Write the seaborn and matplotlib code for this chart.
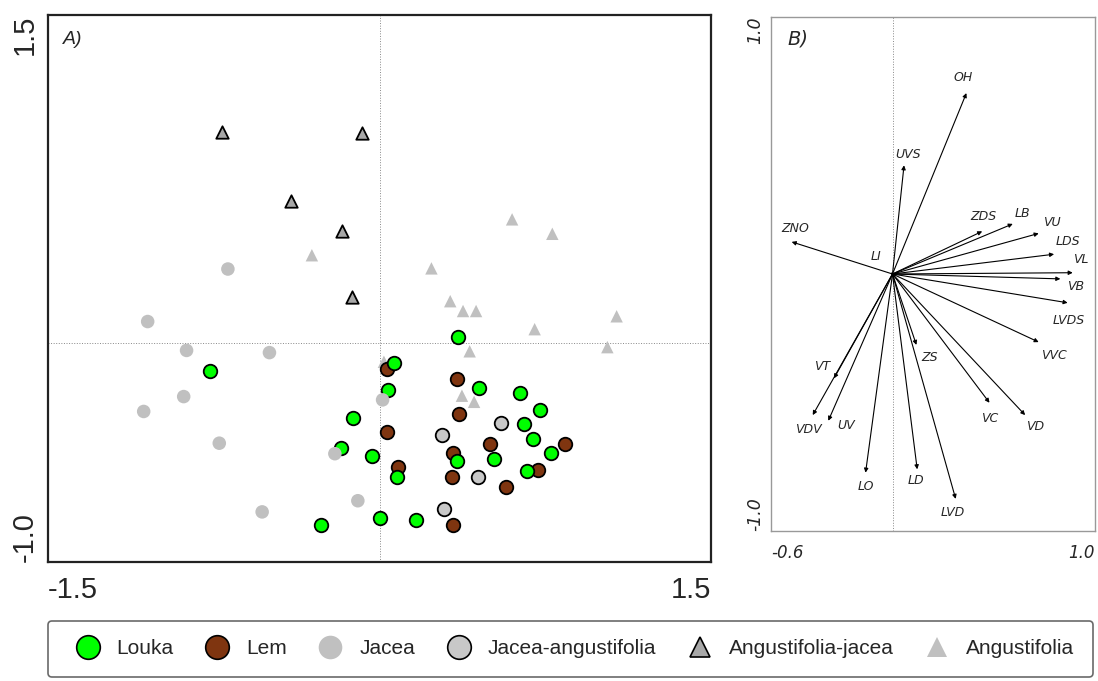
import numpy as np
import pandas as pd
import matplotlib
matplotlib.use("Agg")
import matplotlib.pyplot as plt
from matplotlib.lines import Line2D
import seaborn as sns

# --- panel A: sample scores ---
louka_x = [0.353, -0.769, 0.065, 0.039, 0.451, 0.635, 0.725, -0.122, 0.655, 0.696,
           -0.175, -0.035, 0.349, 0.520, 0.775, 0.078, 0.667, -0.265, 0.002, 0.165]
louka_y = [0.027, -0.126, -0.091, -0.216, -0.207, -0.229, -0.307, -0.342, -0.370, -0.439,
           -0.477, -0.517, -0.538, -0.529, -0.504, -0.610, -0.586, -0.831, -0.801, -0.810]
lem_x = [0.035, 0.351, 0.361, 0.033, 0.500, 0.839, 0.333, 0.084, 0.716, 0.329, 0.573, 0.331]
lem_y = [-0.118, -0.165, -0.325, -0.406, -0.462, -0.462, -0.501, -0.565, -0.580, -0.610, -0.658, -0.831]
jacea_x = [-1.049, -0.873, -0.498, -0.886, -1.067, -0.725, 0.014, -0.202, -0.098, -0.531, -0.686]
jacea_y = [0.099, -0.033, -0.043, -0.244, -0.312, -0.457, -0.259, -0.505, -0.720, -0.771, 0.339]
jac_ang_x = [0.549, 0.284, 0.447, 0.290]
jac_ang_y = [-0.363, -0.421, -0.613, -0.760]
ang_jac_x = [-0.712, -0.080, -0.402, -0.169, -0.124]
ang_jac_y = [0.967, 0.962, 0.650, 0.512, 0.210]
ang_x = [-0.306, 0.235, 0.600, 0.782, 0.320, 0.378, 0.437, 0.702, 1.073, 1.031, 0.408, 0.020, 0.373, 0.428]
ang_y = [0.402, 0.342, 0.566, 0.500, 0.192, 0.147, 0.147, 0.064, 0.123, -0.018, -0.037, -0.085, -0.240, -0.268]

# --- panel B: variable loadings ---
var_names = ["OH", "UVS", "ZDS", "LB", "VU", "LDS", "VL", "VB", "ZNO", "LI",
             "LVDS", "VVC", "ZS", "VT", "VDV", "UV", "VC", "VD", "LO", "LD", "LVD"]
var_x = [0.365, 0.057, 0.443, 0.594, 0.722, 0.798, 0.890, 0.829, -0.498, -0.010,
         0.865, 0.722, 0.118, -0.289, -0.394, -0.317, 0.479, 0.655, -0.133, 0.122, 0.312]
var_y = [0.704, 0.423, 0.166, 0.195, 0.158, 0.077, 0.005, -0.019, 0.125, 0.006,
         -0.112, -0.265, -0.276, -0.406, -0.549, -0.571, -0.501, -0.549, -0.773, -0.760, -0.875]
lab_x = [0.348, 0.077, 0.450, 0.644, 0.788, 0.865, 0.931, 0.903, -0.481, -0.079,
         0.870, 0.796, 0.184, -0.350, -0.415, -0.227, 0.479, 0.706, -0.131, 0.118, 0.299]
lab_y = [0.763, 0.464, 0.222, 0.237, 0.201, 0.125, 0.058, -0.048, 0.176, 0.069,
         -0.182, -0.319, -0.326, -0.358, -0.607, -0.590, -0.562, -0.594, -0.828, -0.804, -0.927]

groups = ["Louka", "Lem", "Jacea", "Jacea-angustifolia", "Angustifolia-jacea", "Angustifolia"]
styles = {
    "Louka": dict(color="#00ff00", marker="o", edgecolor="black", lw=1.3),
    "Lem": dict(color="#7f3510", marker="o", edgecolor="black", lw=1.3),
    "Jacea": dict(color="#c0c0c0", marker="o", edgecolor="none", lw=0),
    "Jacea-angustifolia": dict(color="#c8c8c8", marker="o", edgecolor="black", lw=1.3),
    "Angustifolia-jacea": dict(color="#a8a8a8", marker="^", edgecolor="black", lw=1.3),
    "Angustifolia": dict(color="#c0c0c0", marker="^", edgecolor="none", lw=0),
}

frames = []
for g, xs, ys in [("Louka", louka_x, louka_y), ("Lem", lem_x, lem_y), ("Jacea", jacea_x, jacea_y),
                  ("Jacea-angustifolia", jac_ang_x, jac_ang_y),
                  ("Angustifolia-jacea", ang_jac_x, ang_jac_y), ("Angustifolia", ang_x, ang_y)]:
    frames.append(pd.DataFrame({"x": xs, "y": ys, "group": g}))
scores = pd.concat(frames, ignore_index=True)

sns.set_style("white")
fig = plt.figure(figsize=(10.98, 6.81), dpi=100)
axA = fig.add_axes([48 / 1098, 1 - 562 / 681, 663 / 1098, 547 / 681])
axB = fig.add_axes([771 / 1098, 1 - 531 / 681, 324 / 1098, 514 / 681])

# --- panel A ---
axA.axvline(0, color="#888888", lw=0.7, ls=":", zorder=0)
axA.axhline(0, color="#888888", lw=0.7, ls=":", zorder=0)
draw_order = ["Angustifolia", "Lem", "Louka", "Jacea", "Jacea-angustifolia", "Angustifolia-jacea"]
for g in draw_order:
    st = styles[g]
    sns.scatterplot(data=scores[scores["group"] == g], x="x", y="y", ax=axA,
                    color=st["color"], marker=st["marker"], s=95 if st["marker"] == "o" else 80,
                    edgecolor=st["edgecolor"], linewidth=st["lw"], legend=False, zorder=3)
axA.set_xlim(-1.5, 1.5)
axA.set_ylim(-1.0, 1.5)
axA.set_xlabel("")
axA.set_ylabel("")
axA.set_xticks(np.arange(-1.5, 1.51, 0.5))
axA.set_xticklabels(["-1.5", "", "", "", "", "", "1.5"], fontsize=21, family="Liberation Sans")
axA.set_yticks(np.arange(-1.0, 1.51, 0.5))
axA.set_yticklabels(["-1.0", "", "", "", "", "1.5"], fontsize=21, family="Liberation Sans",
                    rotation=90)
xl = axA.get_xticklabels()
xl[0].set_ha("left")
xl[-1].set_ha("right")
yl = axA.get_yticklabels()
yl[0].set_va("bottom")
yl[-1].set_va("top")
axA.tick_params(axis="both", direction="inout", length=8, width=1.3, color="black")
axA.tick_params(axis="x", pad=6)
axA.tick_params(axis="y", pad=3)
for sp in axA.spines.values():
    sp.set_color("#222222")
    sp.set_linewidth(1.6)
axA.text(0.022, 0.97, "A)", transform=axA.transAxes, fontsize=14, style="italic",
         family="Liberation Sans", ha="left", va="top")

# --- panel B ---
axB.axvline(0, color="#888888", lw=0.7, ls=":", zorder=0)
for name, vx, vy, tx, ty in zip(var_names, var_x, var_y, lab_x, lab_y):
    axB.annotate("", xy=(vx, vy), xytext=(0, 0),
                 arrowprops=dict(arrowstyle="-|>", color="black", lw=0.8,
                                 mutation_scale=6, shrinkA=0, shrinkB=0))
    axB.text(tx, ty, name, fontsize=9, style="italic", ha="center", va="center")
axB.set_xlim(-0.6, 1.0)
axB.set_ylim(-1.0, 1.0)
axB.set_xticks(np.arange(-0.6, 1.01, 0.2))
axB.set_xticklabels(["-0.6", "", "", "", "", "", "", "", "1.0"], fontsize=12, style="italic")
axB.set_yticks(np.arange(-1.0, 1.01, 0.5))
axB.set_yticklabels(["-1.0", "", "", "", "1.0"], fontsize=12.5, style="italic", rotation=90)
xl = axB.get_xticklabels()
xl[0].set_ha("left")
xl[-1].set_ha("right")
yl = axB.get_yticklabels()
yl[0].set_va("bottom")
yl[-1].set_va("top")
axB.tick_params(axis="both", direction="inout", length=6, width=1.0, color="black")
axB.tick_params(axis="x", pad=6)
axB.tick_params(axis="y", pad=2)
for sp in axB.spines.values():
    sp.set_color("#999999")
    sp.set_linewidth(1.0)
axB.text(0.05, 0.975, "B)", transform=axB.transAxes, fontsize=14, style="italic",
         ha="left", va="top")

# --- legend ---
handles = []
for g in groups:
    st = styles[g]
    handles.append(Line2D([], [], ls="none", marker=st["marker"], markersize=17 if st["marker"] == "o" else 15,
                          markerfacecolor=st["color"],
                          markeredgecolor=st["edgecolor"] if st["edgecolor"] != "none" else st["color"],
                          markeredgewidth=1.2 if st["edgecolor"] != "none" else 0))
leg = fig.legend(handles, groups, loc="lower left", ncol=6, mode="expand",
                 bbox_to_anchor=(48 / 1098, 1 - 677 / 681, 1045 / 1098, 67 / 681),
                 frameon=True, fancybox=True, borderaxespad=0, handletextpad=0.4,
                 columnspacing=0.6, borderpad=0.9,
                 prop={"family": "Liberation Sans", "size": 15})
leg.get_frame().set_edgecolor("#444444")
leg.get_frame().set_linewidth(1.2)

fig.savefig("out.png", dpi=100)
